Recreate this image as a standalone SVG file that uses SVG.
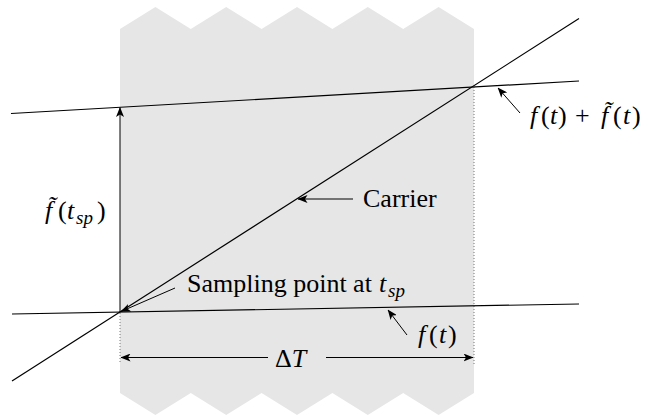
<svg xmlns="http://www.w3.org/2000/svg" width="652" height="415" viewBox="0 0 652 415">
<style>
.ln{stroke:#000;stroke-width:1.2;fill:none}
.lab{stroke:#000;stroke-width:1;fill:none}
.dot{stroke:#777;stroke-width:1;stroke-dasharray:1 2;fill:none}
.i{font-style:italic}
.sub{font-style:italic;font-size:19px}
</style>
<defs>
<marker id="ah" viewBox="0 0 10 8" refX="9.5" refY="4" markerWidth="10" markerHeight="8" markerUnits="userSpaceOnUse" orient="auto">
<path d="M0,0 L10,4 L0,8 L2.5,4 Z" fill="#000"/>
</marker>
</defs>
<g id="band">
<polygon fill="#e6e6e6" points="120,29 155.4,7 190.8,29 226.2,7 261.6,29 297,7 332.4,29 367.8,7 403.2,29 438.6,7 474,29 474,393 438.6,415 403.2,393 367.8,415 332.4,393 297,415 261.6,393 226.2,415 190.8,393 155.4,415 120,393"/>
</g>
<g id="connectors">
<line class="dot" x1="120" y1="313" x2="120" y2="364"/>
<line class="dot" x1="474" y1="87" x2="474" y2="364"/>
<line class="ln" x1="12" y1="314" x2="579" y2="304"/>
<line class="ln" x1="11" y1="113.5" x2="579" y2="81"/>
<line class="ln" x1="12" y1="381" x2="579" y2="18.5"/>
<line class="lab" x1="120" y1="312" x2="120" y2="107.5" marker-end="url(#ah)"/>
<line class="lab" x1="268" y1="357.5" x2="121" y2="357.5" marker-end="url(#ah)"/>
<line class="lab" x1="326" y1="357.5" x2="473" y2="357.5" marker-end="url(#ah)"/>
<line class="lab" x1="353" y1="199" x2="298" y2="199" marker-end="url(#ah)"/>
<line class="lab" x1="175" y1="288" x2="121" y2="311.5" marker-end="url(#ah)"/>
<line class="lab" x1="407" y1="335" x2="388" y2="310" marker-end="url(#ah)"/>
<line class="lab" x1="520" y1="113" x2="498" y2="88" marker-end="url(#ah)"/>
</g>
<g font-family="Liberation Serif" font-size="26" fill="#000" style="font-family:'Liberation Serif',serif">
<g id="label-sum">
<text y="124"><tspan class="i" x="530">f</tspan><tspan x="541">(</tspan><tspan class="i" x="550">t</tspan><tspan x="558">)</tspan><tspan x="575">+</tspan><tspan class="i" x="601">f̃</tspan><tspan x="613">(</tspan><tspan class="i" x="623">t</tspan><tspan x="632">)</tspan></text>
</g>
<g id="label-ftilde">
<text y="219"><tspan class="i" x="45">f̃</tspan><tspan x="58">(</tspan><tspan class="i" x="67">t</tspan><tspan class="sub" x="76" dy="5">sp</tspan><tspan x="97" dy="-5">)</tspan></text>
</g>
<g id="label-carrier">
<text x="363" y="207">Carrier</text>
</g>
<g id="label-sampling">
<text x="187" y="292">Sampling point at <tspan class="i" x="379">t</tspan><tspan class="sub" x="388" dy="5">sp</tspan></text>
</g>
<g id="label-f">
<text y="343"><tspan class="i" x="418">f</tspan><tspan x="429">(</tspan><tspan class="i" x="439">t</tspan><tspan x="448">)</tspan></text>
</g>
<g id="label-dt">
<text x="275" y="367">Δ<tspan class="i">T</tspan></text>
</g>
</g>
</svg>
